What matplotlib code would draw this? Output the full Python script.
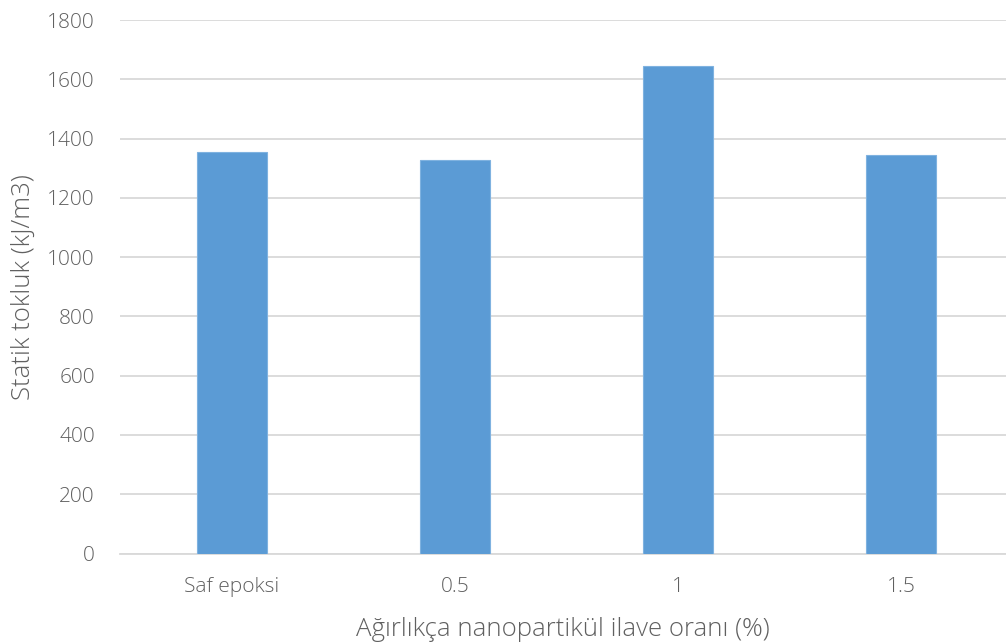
import matplotlib
matplotlib.use('Agg')
import matplotlib.pyplot as plt
import numpy as np

# Statik tokluk verileri
categories = ['Saf epoksi', '0.5', '1', '1.5']
toughness = [1356, 1329, 1645, 1346]
y_ticks = [0, 200, 400, 600, 800, 1000, 1200, 1400, 1600, 1800]

text_color = '#606060'
bar_color = '#5B9BD5'
grid_color = '#D9D9D9'

plt.rcParams['font.family'] = ['Open Sans', 'DejaVu Sans']
plt.rcParams['font.weight'] = 'light'

fig = plt.figure(figsize=(10.06, 6.44), dpi=100)
ax = fig.add_axes([120 / 1006, 1 - 553.5 / 644, 886 / 1006, (553.5 - 20) / 644])

x = np.arange(len(categories))
ax.bar(x, toughness, width=0.313, color=bar_color, edgecolor='#7FB2E0',
       linewidth=0.8, zorder=3)

ax.set_ylim(0, 1800)
ax.set_xlim(-0.5, 3.47)
ax.set_yticks(y_ticks)
ax.set_yticklabels([str(v) for v in y_ticks])
ax.set_xticks(x)
ax.set_xticklabels(categories)

ax.yaxis.grid(True, color=grid_color, linewidth=1.3, zorder=0)
ax.set_axisbelow(True)
for s in ['top', 'right', 'left']:
    ax.spines[s].set_visible(False)
ax.spines['bottom'].set_color(grid_color)
ax.spines['bottom'].set_linewidth(1.3)

ax.tick_params(axis='both', length=0, labelsize=15, colors=text_color)
ax.tick_params(axis='y', pad=18)
ax.tick_params(axis='x', pad=17)

ax.set_ylabel('Statik tokluk (kJ/m3)', fontsize=18.5, color=text_color,
              fontweight='light', labelpad=8)
ax.set_xlabel('Ağırlıkça nanopartikül ilave oranı (%)', fontsize=18.5,
              color=text_color, fontweight='light', labelpad=14)

fig.savefig('out.png', dpi=100)
